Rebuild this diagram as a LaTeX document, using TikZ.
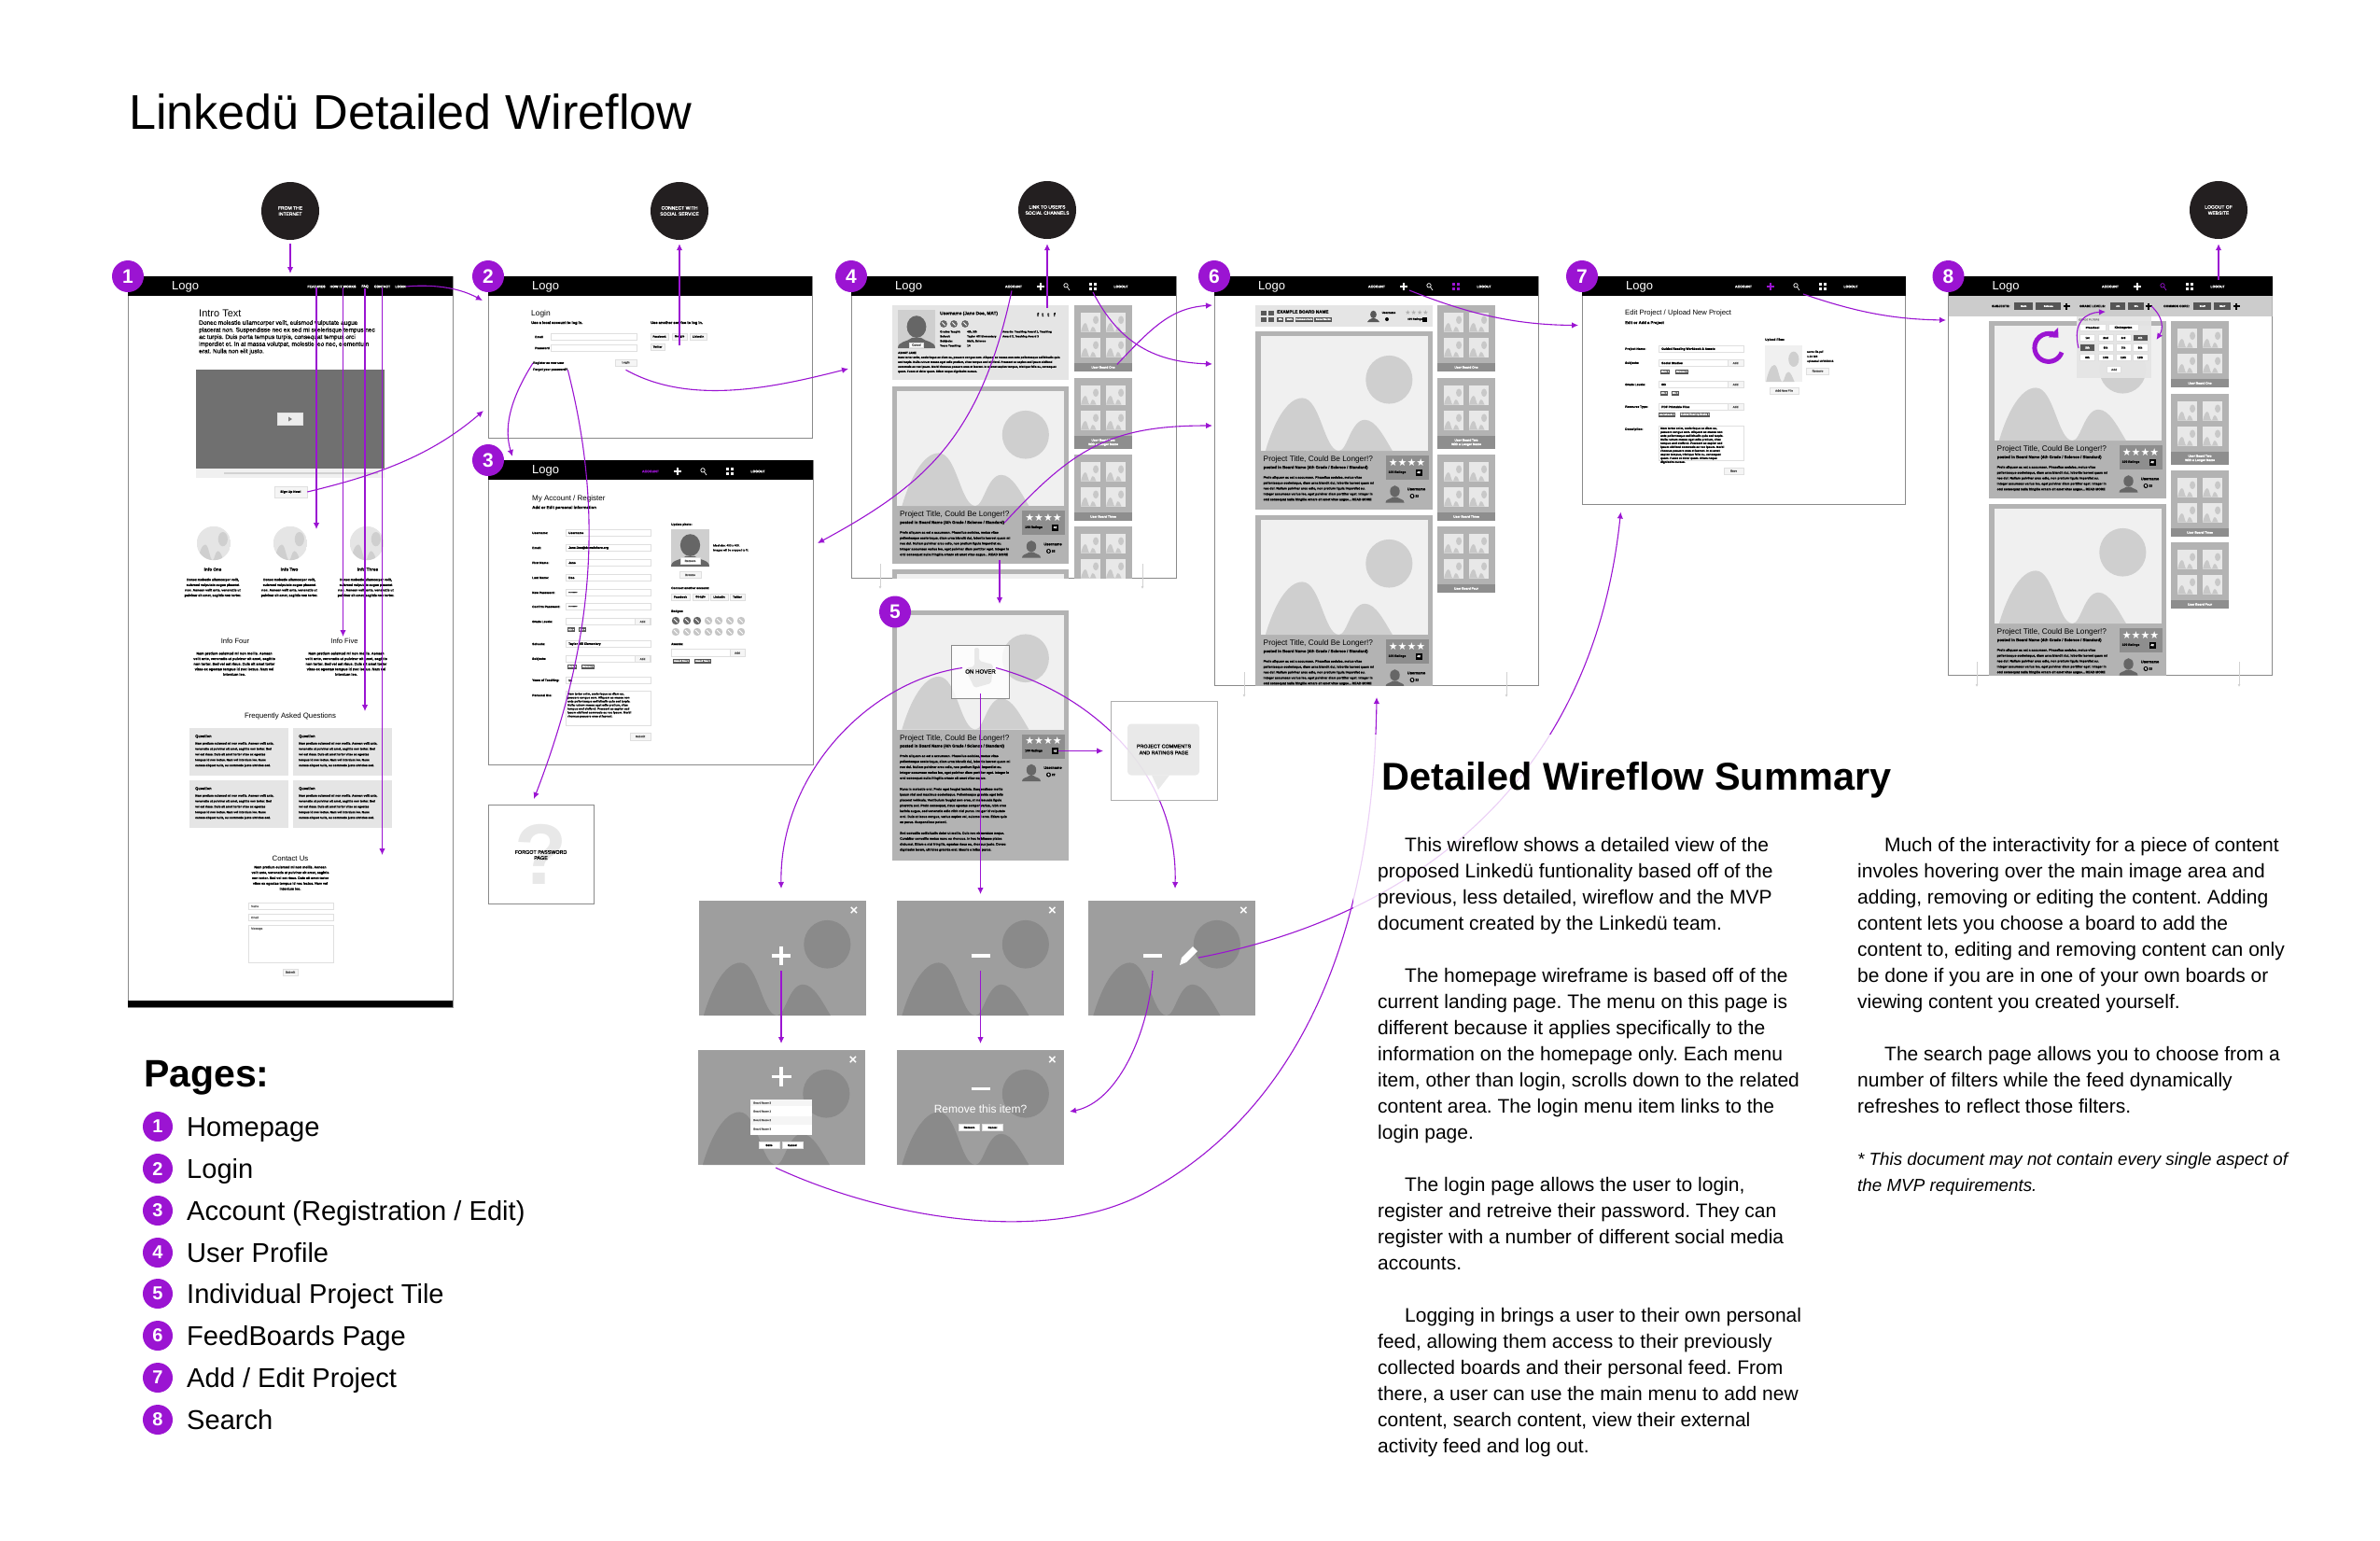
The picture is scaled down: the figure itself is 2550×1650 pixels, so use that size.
\documentclass[tikz,border=0pt]{standalone}
\usepackage{fontspec}
\setmainfont{Liberation Sans}
\newfontfamily\symfont{DejaVu Sans}
\newfontfamily\heavy{Liberation Sans}[UprightFeatures={FakeBold=1.2},BoldFeatures={FakeBold=1.2}]
\usepackage{xcolor}
\usetikzlibrary{arrows.meta, shapes, positioning, calc}

\definecolor{wirepurple}{HTML}{9B14D2}
\definecolor{goaldark}{HTML}{231F20}
\definecolor{cardgrey}{HTML}{B3B3B3}
\definecolor{imgbg}{HTML}{F0F0F0}
\definecolor{imgfg}{HTML}{CFCFCF}
\definecolor{panelbg}{HTML}{9E9E9E}
\definecolor{panelfg}{HTML}{8A8A8A}
\definecolor{paleblock}{HTML}{E5E5E5}
\definecolor{tagdark}{HTML}{555555}
\definecolor{darkbar}{HTML}{8E8E8E}
\definecolor{thumbbg}{HTML}{E8E8E8}
\definecolor{thumbfg}{HTML}{C8C8C8}
\definecolor{framegrey}{HTML}{8A8A8A}

% very small text gets the heavier face
\newcommand{\fsz}[2]{\fontsize{#1}{#2}\ifdim#1pt<7pt\heavy\fi\selectfont}

% image placeholder: x, y, width, height, background, foreground
\newcommand{\scenery}[6]{%
  \begin{scope}[shift={(#1,#2)},x=#3pt,y=-#4pt]
    \fill[#5] (0,0) rectangle (1,1);
    \fill[#6] (.03,1) .. controls (.08,.75) and (.16,.54) .. (.25,.54) .. controls (.36,.54) and (.38,1) .. (.47,1)
      .. controls (.52,1) and (.54,.73) .. (.625,.73) .. controls (.69,.73) and (.74,.88) .. (.79,1) -- cycle;
    \fill[#6] (.77,.38) ellipse [x radius=.14,y radius=.21];
  \end{scope}}

% person silhouette: x, y, width, height, colour
\newcommand{\silhouette}[5]{%
  \begin{scope}[shift={(#1,#2)},x=#3pt,y=-#4pt]
    \fill[#5] (.5,.38) ellipse [x radius=.26,y radius=.32];
    \fill[#5] (0,1) .. controls (0,.8) and (.25,.82) .. (.38,.7) -- (.62,.7) .. controls (.75,.82) and (1,.8) .. (1,1) -- cycle;
  \end{scope}}

% page frame, black header, logo and number badge
\newcommand{\wirepage}[6]{%
  \draw[framegrey, line width=.9pt, fill=white] (#2,#3) rectangle (#4,#5);
  \fill[black] (#2,#3) rectangle (#4,#3+21);
  \node[logotext] (#1logo) at (#2+47,#3+11) {Logo};
  \node[badge] (#1badge) at (#2,#3) {#6};}

% signed-in menu: name, x of ACCOUNT, y, four colours
\newcommand{\usermenu}[7]{%
  \node[navtext, text=#4] (#1account) at (#2,#3) {ACCOUNT};
  \coordinate (#1add) at (#2+29,#3);
  \coordinate (#1find) at (#2+57,#3);
  \coordinate (#1grid) at (#2+85,#3);
  \draw[#5, line width=1.4pt] (#1add) +(-4,0) -- +(4,0) +(0,-4) -- +(0,4);
  \draw[#6, line width=.7pt] (#1find) +(-1,-1.2) circle (2.2pt) +(.5,.5) -- +(3,4);
  \foreach \gx/\gy in {-4.4/-4.4,.9/-4.4,-4.4/.9,.9/.9}
    \fill[#7] ($(#1grid)+(\gx,\gy)$) rectangle +(3.5,3.5);
  \node[navtext] (#1logout) at (#2+115,#3) {LOGOUT};}

% sidebar tile: name, x, y, height, bar height, label
\newcommand{\boardtile}[6]{%
  \begin{scope}[shift={(#2,#3)}]
    \fill[cardgrey] (0,0) rectangle (62,#4);
    \fill[darkbar] (0,#4-#5) rectangle (62,#4);
    \foreach \tx in {6.5,33.5} \foreach \ty in {8,35} \scenery{\tx}{\ty}{21.5}{20.5}{thumbbg}{thumbfg};
    \node[barlabel] (#1) at (31,#4-#5/2) {#6};
  \end{scope}}

% column of the four sidebar tiles
\newcommand{\boardcolumn}[3]{%
  \boardtile{#1one}{#2}{#3}{71}{9}{User Board One}
  \boardtile{#1two}{#2}{#3+78}{76}{14}{User Board Two\\With a Longer Name}
  \boardtile{#1three}{#2}{#3+160}{71}{9}{User Board Three}
  \boardtile{#1four}{#2}{#3+237}{71}{9}{User Board Four}}

\newcommand{\cardblurb}{Proin aliquam ac est a accumsan. Phasellus sodales, metus vitae\\
  pellentesque scelerisque, diam urna blandit dui, lobortis laoreet quam mi\\
  nec dui. Nullam pulvinar arcu odio, non pretium ligula imperdiet eu.\\
  Integer accumsan varius leo, eget pulvinar diam porttitor eget. Integer in\\
  orci consequat nulla fringilla ornare sit amet vitae augue... READ MORE}

% project card: name, x, y, height, body text
\newcommand{\projectcard}[5]{%
  \begin{scope}[shift={(#2,#3)}]
    \fill[cardgrey] (0,0) rectangle (189.5,#4);
    \scenery{5.5}{5}{179}{123}{imgbg}{imgfg}
    \node[cardtitle] (#1title) at (8.5,137.5) {Project Title, Could Be Longer!?};
    \node[cardposted] (#1posted) at (8.5,146) {posted in Board Name (4th Grade / Science / Standard)};
    \node[cardbody] (#1body) at (8.5,155) {#5};
    \fill[darkbar] (139.5,133) rectangle (185.5,159);
    \node[cardstars] (#1stars) at (162.5,140.5) {★★★★};
    \node[tinytext] (#1ratings) at (152,151) {100 Ratings};
    \node[commenticon] (#1comment) at (175,151) {42};
    \silhouette{139.5}{164}{20}{19.5}{tagdark!90}
    \node[cardname] (#1user) at (172.5,169) {Username};
    \node[repdot] (#1rep) at (168,176.5) {0};
    \node[tinytext, right=.5pt of #1rep] (#1score) {22};
  \end{scope}}

% dark overlay with a close mark
\newcommand{\hoverpanel}[3]{%
  \scenery{#2}{#3}{179}{123}{panelbg}{panelfg}
  \node[closemark] (#1close) at (#2+166.5,#3+11.5) {×};}

\begin{document}
\frenchspacing
\begin{tikzpicture}[
    x=1pt, y=-1pt,
    flow/.style={wirepurple, line width=1.1pt, -{Latex[length=7pt,width=6.5pt]}},
    scrollhint/.style={gray!35, line width=.7pt, -{Latex[length=3pt,width=3pt]}},
    goal/.style={circle, fill=goaldark, text=white, minimum size=62pt, inner sep=0pt, align=center, font={\fsz{5}{6.4}}},
    badge/.style={circle, fill=wirepurple, text=white, minimum size=34pt, inner sep=0pt, font={\fsz{21}{24}\bfseries}},
    logotext/.style={anchor=west, text=white, inner sep=0pt, font={\fsz{13}{15}}},
    navtext/.style={text=white, inner sep=0pt, font={\fsz{3.6}{4}\bfseries}},
    heading/.style={anchor=west, inner sep=0pt, font={\fsz{8}{10}}},
    subhead/.style={anchor=west, inner sep=0pt, font={\fsz{4.4}{5}\bfseries}},
    tinytext/.style={inner sep=0pt, font={\fsz{3.3}{4}\bfseries}},
    leftnote/.style={tinytext, anchor=west},
    blurb/.style={inner sep=0pt, align=center, font={\fsz{3.5}{5.6}\bfseries}},
    field/.style={draw=gray!25, fill=white, line width=.7pt, minimum height=7.5pt, inner sep=0pt, anchor=west},
    btn/.style={draw=gray!25, fill=gray!8, line width=.6pt, minimum height=7pt, inner sep=0pt, text=black!65, font={\fsz{3}{4}\bfseries}},
    tagchip/.style={fill=tagdark, text=white, minimum height=5pt, inner sep=.7pt, font={\fsz{2.6}{3}\bfseries}},
    barlabel/.style={text=white, inner sep=0pt, align=center, font={\fsz{3.3}{4.4}\bfseries}},
    cardtitle/.style={anchor=west, inner sep=0pt, font={\fsz{8.3}{10}}},
    cardposted/.style={anchor=west, inner sep=0pt, font={\fsz{4.3}{5}\bfseries}},
    cardbody/.style={anchor=north west, inner sep=0pt, align=left, font={\fsz{3.4}{5.9}\bfseries}},
    cardstars/.style={text=white, inner sep=0pt, font={\symfont\fsz{11}{12}}},
    cardname/.style={inner sep=0pt, font={\fsz{4}{5}\bfseries}},
    commenticon/.style={fill=black, text=white, minimum size=7pt, inner sep=0pt, font={\fsz{3}{4}\bfseries}},
    repdot/.style={circle, fill=black, text=white, minimum size=5pt, inner sep=0pt, font={\fsz{3.4}{4}\bfseries}},
    closemark/.style={text=white, inner sep=0pt, font={\fsz{15}{16}\bfseries}},
    sheet/.style={draw=framegrey, fill=white, line width=.9pt},
    pagelabel/.style={anchor=base west, inner sep=0pt, font={\fsz{29.1}{32}}},
    pagedot/.style={badge, minimum size=32pt, font={\fsz{20}{22}\bfseries}},
    summary/.style={anchor=north west, inner sep=0pt, align=left, font={\fsz{21}{28}}}
  ]
  \useasboundingbox (0,0) rectangle (2550,1650);

  % Title
  \node[anchor=west, inner sep=0pt, font={\fsz{52.2}{60}}] (maintitle) at (138,120) {Linkedü Detailed Wireflow};

  % Outside goals
  \node[goal] (internet) at (311,226) {FROM THE\\INTERNET};
  \node[goal] (connect) at (728,226) {CONNECT WITH\\SOCIAL SERVICE};
  \node[goal] (channels) at (1122,225) {LINK TO USER'S\\SOCIAL CHANNELS};
  \node[goal] (leave) at (2377,225) {LOGOUT OF\\WEBSITE};

  % Page 1, homepage
  \wirepage{home}{137}{296}{485}{1079}{1}
  \fill[black] (137,1072) rectangle (485,1079);
  \node[navtext] (navfeatures) at (339,307) {FEATURES};
  \node[navtext] (navhow) at (367.5,307) {HOW IT WORKS};
  \node[navtext] (navfaq) at (391,307) {FAQ};
  \node[navtext] (navcontact) at (409.5,307) {CONTACT};
  \node[navtext] (navlogin) at (429,307) {LOGIN};
  \node[heading, font={\fsz{11}{13}}] (introhead) at (213,336) {Intro Text};
  \node[anchor=north west, inner sep=0pt, align=left, font={\fsz{6.5}{7.6}}] (introtext) at (213,343) {Donec molestie ullamcorper velit, euismod vulputate augue\\
    placerat non. Suspendisse nec ex sed mi scelerisque tempus nec\\
    ac turpis. Duis porta tempus turpis, consequat tempus orci\\
    imperdiet et. In at massa volutpat, molestie leo nec, elementum\\
    erat. Nulla non elit justo.};
  \fill[black!56] (210,396) rectangle (412,502);
  \fill[gray!12] (210,502) rectangle (412,512);
  \draw[gray!35, line width=2pt] (240,507) -- (405,507);
  \node[btn, fill=gray!15, minimum width=27pt, minimum height=13pt] (playbutton) at (311,449) {\tikz\fill[gray] (0,0) -- (0,5pt) -- (4pt,2.5pt) -- cycle;};
  \node[btn, text=black, minimum width=35pt, minimum height=12pt, font={\fsz{3.4}{4}\bfseries}] (signup) at (311.5,527) {Sign Up Now!};
  \foreach \ix/\il/\ilx in {229/Info One/228, 311/Info Two/310, 393/Info Three/394} {
    \begin{scope}
      \clip (\ix,582) circle (18.2pt);
      \scenery{\ix-18.2}{563.8}{36.4}{36.4}{paleblock}{imgfg}
    \end{scope}
    \node[inner sep=0pt, font={\fsz{4.6}{5}\bfseries}] (info\ix) at (\ilx,610) {\il};
    \node[blurb, anchor=north] (infotext\ix) at (\ix-1,619.5) {Donec molestie ullamcorper velit,\\euismod vulputate augue placerat\\non. Aenean velit ante, venenatis ut\\pulvinar sit amet, sagittis non tortor.};
  }
  \foreach \fx/\fl/\ftx in {252/Info Four/251, 369/Info Five/371} {
    \node[inner sep=0pt, font={\fsz{7.6}{9}}] (info\fx) at (\fx,687) {\fl};
    \node[blurb, anchor=north, font={\fsz{3.8}{5.6}\bfseries}] (infotext\fx) at (\ftx,698.5) {Nam pretium euismod mi non mollis. Aenean\\velit ante, venenatis ut pulvinar sit amet, sagittis\\non tortor. Sed vel est risus. Duis sit amet tortor\\vitae ex egestas tempus id nec lectus. Nam vel\\interdum leo.};
  }
  \node[inner sep=0pt, font={\fsz{7.8}{9}}] (faqtitle) at (311,767) {Frequently Asked Questions};
  \foreach \qx/\qy in {203/780, 314/780, 203/836, 314/836} {
    \fill[paleblock] (\qx,\qy) rectangle +(106,51);
    \node[anchor=west, inner sep=0pt, font={\fsz{4}{5}\bfseries}] (q\qx\qy) at (\qx+6,\qy+9) {Question};
    \node[anchor=north west, inner sep=0pt, align=left, font={\fsz{3.2}{5.9}\bfseries}] (a\qx\qy) at (\qx+6,\qy+15) {Nam pretium euismod mi non mollis. Aenean velit ante,\\venenatis ut pulvinar sit amet, sagittis non tortor. Sed\\vel est risus. Duis sit amet tortor vitae ex egestas\\tempus id nec lectus. Nam vel interdum leo. Nunc\\cursus aliquet nulla, eu commodo justo ultricies sed.};
  }
  \node[inner sep=0pt, font={\fsz{7.8}{9}}] (contacthead) at (311,920) {Contact Us};
  \node[blurb, anchor=north, font={\fsz{3.6}{5.8}\bfseries}] (contacttext) at (311,927.5) {Nam pretium euismod mi non mollis. Aenean\\velit ante, venenatis ut pulvinar sit amet, sagittis\\non tortor. Sed vel est risus. Duis sit amet tortor\\vitae ex egestas tempus id nec lectus. Nam vel\\interdum leo.};
  \node[field, minimum width=91pt] (contactname) at (266,971) {};
  \node[field, minimum width=91pt] (contactmail) at (266,983) {};
  \node[field, minimum width=91pt, minimum height=40pt] (contactmsg) at (266,1011) {};
  \node[leftnote, text=black!55, font={\fsz{3}{4}}] (contactnamet) at (269,971) {Name};
  \node[leftnote, text=black!55, font={\fsz{3}{4}}] (contactmailt) at (269,983) {Email};
  \node[leftnote, text=black!55, font={\fsz{3}{4}}] (contactmsgt) at (269,995) {Message};
  \node[btn, minimum width=16pt] (sendbutton) at (311,1041.5) {Submit};

  % Page 2, login
  \wirepage{login}{523}{296}{870}{469}{2}
  \node[heading, font={\fsz{8.4}{10}}] (loginhead) at (569,336) {Login};
  \node[subhead, font={\fsz{4}{5}\bfseries}] (localhint) at (569,346) {Use a local account to log in.};
  \node[subhead, font={\fsz{4}{5}\bfseries}] (otherhint) at (697,346) {Use another service to log in.};
  \node[leftnote] (maillabel) at (573,361) {Email};
  \node[leftnote] (passlabel) at (573,373) {Password};
  \node[field, minimum width=92pt] (mailfield) at (590,361) {};
  \node[field, minimum width=92pt] (passfield) at (590,373) {};
  \foreach \sx/\sy/\sw/\sl in {706.5/360.5/19/Facebook, 728/360.5/16/Google, 748/360.5/18/LinkedIn, 704.5/371.5/15/Twitter}
    \node[btn, text=black, minimum width=\sw pt] (login\sl) at (\sx,\sy) {\sl};
  \node[leftnote] (registerlink) at (571,389) {Register as new user};
  \node[leftnote] (forgotlink) at (571,396) {Forgot your password?};
  \node[btn, minimum width=23pt] (loginbutton) at (670.5,388.5) {Login};

  % Page 3, account
  \wirepage{account}{523}{493}{871}{819}{3}
  \usermenu{acc}{697}{505}{wirepurple}{white}{white}{white}
  \node[heading] (accounthead) at (570,534) {My Account / Register};
  \node[subhead] (accountsub) at (570,544) {Add or Edit personal information};
  \foreach \ry/\rl/\rv in {571/Username:/Username, 587/Email:/Jane.Doe@domainhere.org, 603/First Name:/Jane, 619/Last Name:/Doe, 635/New Password:/••••••••, 650/Confirm Password:/••••••••, 690/Schools:/Taylor Hill Elementary, 729/Years of Teaching:/14} {
    \node[leftnote] (lab\ry) at (570,\ry) {\rl};
    \node[field, minimum width=91pt] (fld\ry) at (606,\ry) {};
    \node[leftnote] (val\ry) at (609,\ry) {\rv};
  }
  \foreach \ry/\rl in {666/Grade Levels:, 706/Subjects:} {
    \node[leftnote] (lab\ry) at (570,\ry) {\rl};
    \node[field, minimum width=91pt] (fld\ry) at (606,\ry) {};
    \node[btn, minimum width=16pt, minimum height=7.5pt] (add\ry) at (688.5,\ry) {Add};
  }
  \node[tagchip] (taga) at (612,674.5) {4th ×};
  \node[tagchip] (tagb) at (624,674.5) {5th ×};
  \node[tagchip] (tagc) at (613,714) {Math ×};
  \node[tagchip] (tagd) at (630,714) {Science ×};
  \node[leftnote] (lab745) at (570,745) {Personal Bio:};
  \node[field, minimum width=91pt, minimum height=37pt, align=left] (biofield) at (606,758.5) {};
  \node[anchor=north west, inner sep=0pt, align=left, font={\fsz{3.1}{4}\bfseries}] (biotext) at (608,742) {Nam tortor enim, scelerisque ac diam eu,\\posuere congue sem. Aliquam ac massa non\\ante pellentesque sollicitudin quis sed turpis.\\Nulla rutrum massa eget odio pretium, vitae\\tempus orci eleifend. Praesent ac sapien sed\\ipsum eleifend commodo ac nec ipsum. Morbi\\rhoncus posuere eros et laoreet.};
  \node[btn, minimum width=22pt, minimum height=8pt] (submitbutton) at (686,789) {Submit};
  \node[leftnote] (photolabel) at (719,562) {Update photo:};
  \fill[imgfg] (719,567) rectangle (760,607);
  \silhouette{719}{570}{41}{37}{tagdark!90}
  \node[btn, fill=white, minimum width=21pt] (photoremove) at (739.5,601) {Remove};
  \node[anchor=north west, inner sep=0pt, align=left, font={\fsz{3}{5}}] (photohint) at (764,583) {Ideal size: 400 x 400.\\Images will be cropped to fit.};
  \node[btn, minimum width=23pt] (photobrowse) at (739.5,616) {Browse};
  \node[leftnote] (connectlabel) at (719,630) {Connect another account:};
  \foreach \sx/\sw/\sl in {729/20/Facebook, 750.5/17/Google, 770.5/19/LinkedIn, 790/16/Twitter}
    \node[btn, text=black, minimum width=\sw pt] (acc\sl) at (\sx,639.5) {\sl};
  \node[leftnote] (badgelabel) at (719,655) {Badges:};
  \foreach \bx [count=\bi] in {724,736,747,759,770,782,794} {
    \ifnum\bi<4 \fill[tagdark!90] (\bx,665) circle (4.2pt); \else \fill[gray!45] (\bx,665) circle (4.2pt); \fi
    \fill[gray!45] (\bx,677) circle (4.2pt);
    \draw[white, line width=.8pt] (\bx-1.8,663.2) -- (\bx+1.8,666.8);
    \draw[white, line width=.8pt] (\bx-1.8,675.2) -- (\bx+1.8,678.8);
  }
  \node[leftnote] (awardlabel) at (719,690) {Awards:};
  \node[field, minimum width=63pt] (awardfield) at (719,699.5) {};
  \node[btn, minimum width=16pt, minimum height=7.5pt] (awardadd) at (790,699.5) {Add};
  \node[tagchip] (awarda) at (730,708) {Award One ×};
  \node[tagchip] (awardb) at (753,708) {Award Two ×};

  % Forgot password
  \draw[sheet] (523,862) rectangle (636,968);
  \node[inner sep=0pt, text=gray!18, font={\fsz{92}{100}\bfseries}] (forgotmark) at (580,915) {?};
  \node[inner sep=0pt, align=center, font={\fsz{5.4}{6.2}}] (forgotpage) at (579.5,916) {FORGOT PASSWORD\\PAGE};

  % Page 4, user profile
  \wirepage{profile}{912}{296}{1260}{619}{4}
  \usermenu{pro}{1086}{307}{white}{white}{white}{white}
  \begin{scope}
    \clip (912,317) rectangle (1260,619);
    \fill[paleblock] (955.5,327) rectangle (1145,407);
    \fill[imgfg] (962,332) rectangle (1002,373);
    \silhouette{962}{336}{40}{37}{tagdark!90}
    \node[btn, fill=white, minimum width=15pt, minimum height=5pt] (cancelbutton) at (982,369.5) {Cancel};
    \node[anchor=west, inner sep=0pt, font={\fsz{4.8}{5.6}\bfseries}] (username) at (1007,336) {Username (Jane Doe, MAT)};
    \foreach \bx in {1011,1022,1034} {
      \fill[tagdark!90] (\bx,347) circle (3.9pt);
      \draw[white, line width=.8pt] (\bx-1.6,345.4) -- (\bx+1.6,348.6);
    }
    \node[anchor=west, inner sep=0pt, font={\fsz{5.5}{6}\bfseries}] (socials) at (1111,337) {f\hspace{3.2pt}t\hspace{4.2pt}t\hspace{4.8pt}f};
    \node[anchor=north west, inner sep=0pt, align=left, font={\fsz{3}{5}\bfseries}] (factlabels) at (1007,354) {Grades Taught:\\School:\\Subjects:\\Years Teaching:};
    \node[anchor=north west, inner sep=0pt, align=left, font={\fsz{3}{5}\bfseries}] (factvalues) at (1036,354) {4th, 5th\\Taylor Hill Elementary\\Math, Science\\14};
    \node[anchor=north west, inner sep=0pt, align=left, font={\fsz{3}{5}\bfseries}] (factawards) at (1074,354) {Awards: Teaching Award 1, Teaching\\Award 2, Teaching Award 3};
    \node[anchor=west, inner sep=0pt, font={\fsz{3}{4}\bfseries}] (aboutlabel) at (962,378) {ABOUT JANE};
    \node[anchor=north west, inner sep=0pt, align=left, font={\fsz{3}{5}\bfseries}] (abouttext) at (962,381.5) {Nam tortor enim, scelerisque ac diam eu, posuere congue sem. Aliquam ac massa non ante pellentesque sollicitudin quis\\sed turpis. Nulla rutrum massa eget odio pretium, vitae tempus orci eleifend. Praesent ac sapien sed ipsum eleifend\\commodo ac nec ipsum. Morbi rhoncus posuere eros et laoreet. In at amet sapien tempus, tristique felis eu, consequat\\quam. Fusce et dolor quam. Etiam neque dignissim cursus.};
    \projectcard{procard}{955.5}{414}{190}{\cardblurb}
    \projectcard{procardb}{955.5}{610}{190}{\cardblurb}
    \boardcolumn{proboard}{1151}{327}
  \end{scope}

  % Page 5, individual tile
  \projectcard{tile}{955.5}{653.5}{268}{Proin aliquam ac est a accumsan. Phasellus sodales, metus vitae\\
    pellentesque scelerisque, diam urna blandit dui, lobortis laoreet quam mi\\
    nec dui. Nullam pulvinar arcu odio, non pretium ligula imperdiet eu.\\
    Integer accumsan varius leo, eget pulvinar diam porttitor eget. Integer in\\
    orci consequat nulla fringilla ornare sit amet vitae augue.\\[5.9pt]
    Nunc in molestie orci. Proin eget feugiat lacinia. Suspendisse mollis\\
    ipsum nisi sed maximus scelerisque. Pellentesque gravida eget felis\\
    placerat vehicula. Vestibulum feugiat sem eros, et malesuada ligula\\
    pharetra sed. Proin consequat, risus egestas semper varius, nibh eros\\
    lacinia augue, sed venenatis odio nibh nisi purus. Integer id vulputate\\
    orci. Duis at lacus congue, varius sapien vel, euismod eros. Etiam quis\\
    ex purus. Suspendisse potenti.\\[5.9pt]
    Sed convallis sollicitudin dolor ut mollis. Duis nec elementum neque.\\
    Curabitur convallis metus nunc eu rhoncus. In hac habitasse platea\\
    dictumst. Etiam a nisi fringilla, egestas risus eu, rhoncus justo. Donec\\
    dignissim lorem, ultricies gravida erat. Mauris a tellus purus.}
  \node[badge] (tilebadge) at (959,655.5) {5};
  \draw[framegrey, line width=.7pt, fill=white, fill opacity=.8] (1019.5,691) rectangle (1081,748.5);
  \fill[gray!18, rounded corners=2pt] (1044,694) -- (1049,694) -- (1049,708) -- (1064,712) -- (1062,732) -- (1044,737) -- (1034,716) -- (1044,714) -- cycle;
  \node[inner sep=0pt, font={\fsz{6.1}{7}}] (onhover) at (1050.5,719.5) {ON HOVER};

  % Page 6, feed boards
  \wirepage{feed}{1301}{296}{1648}{734}{6}
  \usermenu{fee}{1475}{307}{white}{white}{white}{wirepurple}
  \begin{scope}
    \clip (1301,317) rectangle (1648,734);
    \fill[paleblock] (1345,327) rectangle (1535,350);
    \foreach \gx/\gy in {1351/332.5, 1358.5/332.5, 1351/339.5, 1358.5/339.5} \fill[gray!70!black] (\gx,\gy) rectangle +(6,5.5);
    \node[anchor=west, inner sep=0pt, font={\fsz{4.6}{5}\bfseries}] (boardname) at (1368,334) {EXAMPLE BOARD NAME};
    \foreach \tx/\tw/\tl in {1368/7/4th, 1377/9/Math, 1387.5/19/Common Core, 1408/19/Some Words}
      \node[tagchip, anchor=west, minimum width=\tw pt] (board\tx) at (\tx,342) {\tl};
    \silhouette{1465}{332}{13}{13}{gray!70!black}
    \node[anchor=west, inner sep=0pt, font={\fsz{3}{4}\bfseries}] (boarduser) at (1480.5,335) {Username};
    \node[inner sep=0pt, text=gray!60, font={\symfont\fsz{7}{8}}] (boardstars) at (1518,335) {★★★★};
    \node[anchor=west, inner sep=0pt, font={\fsz{2.8}{3}\bfseries}] (boardrate) at (1508,342) {100 Ratings};
    \node[commenticon, minimum size=5pt] (boardnote) at (1526,342) {};
    \node[repdot, minimum size=4pt] (boardrep) at (1486,342) {};
    \projectcard{feedcard}{1345}{355}{190.5}{\cardblurb}
    \projectcard{feedcardb}{1345}{552}{190}{\cardblurb}
    \boardcolumn{feedboard}{1540}{327}
  \end{scope}

  % Page 7, add / edit project
  \wirepage{project}{1695}{296}{2041.5}{540}{7}
  \usermenu{pjt}{1868}{307}{white}{wirepurple}{white}{white}
  \node[heading, font={\fsz{7.7}{9}}] (projecthead) at (1741,336) {Edit Project / Upload New Project};
  \node[subhead, font={\fsz{4.2}{5}\bfseries}] (projectsub) at (1741,346) {Edit or Add a Project};
  \foreach \ry/\rl/\rv in {374/Project Name:/Guided Reading Workbook \& Assets, 389/Subjects:/Social Studies, 412/Grade Levels:/6th, 436/Resource Type:/PDF Printable Files} {
    \node[leftnote] (pl\ry) at (1741,\ry) {\rl};
    \node[field, minimum width=91pt] (pf\ry) at (1777,\ry) {};
    \node[leftnote] (pv\ry) at (1780,\ry) {\rv};
  }
  \foreach \ry in {389,412,436} \node[btn, minimum width=17pt, minimum height=7.5pt] (padd\ry) at (1859.5,\ry) {Add};
  \node[tagchip] (ptaga) at (1784,398) {Math ×};
  \node[tagchip] (ptagb) at (1802,398) {Science ×};
  \node[tagchip] (ptagc) at (1783,421) {4th ×};
  \node[tagchip] (ptagd) at (1795,421) {5th ×};
  \node[tagchip] (ptage) at (1786,444) {worksheets ×};
  \node[tagchip] (ptagf) at (1816,444) {Guided Reading Books ×};
  \node[leftnote] (pl460) at (1741,460) {Description:};
  \node[field, minimum width=91pt, minimum height=37pt] (pdesc) at (1777,474.5) {};
  \node[anchor=north west, inner sep=0pt, align=left, font={\fsz{3.1}{4}\bfseries}] (pdesctext) at (1779,457.5) {Nam tortor enim, scelerisque ac diam eu,\\posuere congue sem. Aliquam ac massa non\\ante pellentesque sollicitudin quis sed turpis.\\Nulla rutrum massa eget odio pretium, vitae\\tempus orci eleifend. Praesent ac sapien sed\\ipsum eleifend commodo ac nec ipsum. Morbi\\rhoncus posuere eros et laoreet. In at amet\\sapien tempus, tristique felis eu, consequat\\quam. Fusce et dolor quam. Etiam neque\\dignissim cursus.};
  \node[btn, minimum width=21pt] (savebutton) at (1857.5,504.5) {Save};
  \node[leftnote] (uploadlabel) at (1891,364) {Upload Files:};
  \scenery{1891}{370}{40}{39}{imgbg}{imgfg}
  \node[anchor=north west, inner sep=0pt, align=left, font={\fsz{3}{5}}] (uploadinfo) at (1936,375.5) {some-file.pdf\\1.24 MB\\uploaded 10/15/2015};
  \node[btn, minimum width=24pt] (uploadremove) at (1947.5,397.5) {Remove};
  \node[btn, minimum width=31pt] (uploadadd) at (1911.5,418.5) {Add New File};

  % Page 8, search
  \wirepage{search}{2087.5}{296}{2434.5}{723}{8}
  \usermenu{sea}{2261}{307}{white}{white}{wirepurple}{white}
  \begin{scope}
    \clip (2087.5,317) rectangle (2434.5,723);
    \fill[gray!40] (2087.5,317) rectangle (2434.5,338.5);
    \projectcard{searchcard}{2131}{344}{190}{\cardblurb}
    \projectcard{searchcardb}{2131}{540}{190}{\cardblurb}
    \boardcolumn{searchboard}{2326}{344}
  \end{scope}
  \foreach \fx/\fl in {2134/SUBJECTS:, 2228/GRADE LEVELS:, 2318/COMMON CORE:}
    \node[anchor=west, inner sep=0pt, font={\fsz{3.4}{4}\bfseries}] (filter\fx) at (\fx,328) {\fl};
  \foreach \tx/\tw/\tl in {2158/20/Math, 2181/27/Science, 2261/16/4th, 2280/17/5th, 2350/19/Stuff, 2372/18/Stuff}
    \node[tagchip, anchor=west, minimum width=\tw pt, minimum height=8pt] (chip\tx) at (\tx,328) {\tl};
  \foreach \px in {2214,2302,2396}
    \draw[black, line width=1.4pt] (\px-3.5,328) -- (\px+3.5,328) (\px,324.5) -- (\px,331.5);
  \fill[paleblock, opacity=.95] (2225,338.5) rectangle (2305,405);
  \node[anchor=west, inner sep=0pt, text=black!50, font={\fsz{2.8}{3}}] (filterhead) at (2227,342.5) {GRADE FILTERS};
  \node[btn, fill=white, text=black, minimum width=28pt] (fpre) at (2242,351) {Preschool};
  \node[btn, fill=white, text=black, minimum width=32pt] (fkin) at (2275,351) {Kindergarten};
  \foreach \gr/\gx/\gy/\gc/\gt in {1st/2236.5/362/white/black, 2nd/2256/362/white/black, 3rd/2275/362/white/black, 4th/2293/362/tagdark/white, 5th/2236.5/372.5/tagdark/white, 6th/2256/372.5/white/black, 7th/2275/372.5/white/black, 8th/2293/372.5/white/black, 9th/2236.5/383/white/black, 10th/2256/383/white/black, 11th/2275/383/white/black, 12th/2293/383/white/black}
    \node[btn, fill=\gc, text=\gt, minimum width=16pt, minimum height=7.5pt] (grade\gr) at (\gx,\gy) {\gr};
  \node[btn, fill=white, minimum width=15pt, minimum height=6.5pt] (gradeadd) at (2265,396) {Add};
  \draw[wirepurple, line width=5pt, -{Triangle[length=8pt,width=14pt]}] (2209,377.5) arc[start angle=-20, end angle=-315, radius=15pt];

  % Hover overlays
  \hoverpanel{addpanel}{748.5}{965}
  \hoverpanel{minuspanel}{961}{965}
  \hoverpanel{editpanel}{1166}{965}
  \hoverpanel{pickpanel}{747.5}{1125}
  \hoverpanel{removepanel}{961}{1125}
  \coordinate (addicon) at (837,1024);
  \coordinate (minusicon) at (1050.5,1024);
  \coordinate (editicon) at (1235,1024);
  \coordinate (pencilicon) at (1284,1026);
  \draw[white, line width=3.4pt] (827,1024) -- (847,1024) (837,1014) -- (837,1034);
  \draw[white, line width=3.4pt] (1040.5,1024) -- (1060.5,1024);
  \draw[white, line width=3.4pt] (1225,1024) -- (1245,1024);
  \fill[white] (1264,1034) -- (1266,1026) -- (1278,1014) -- (1283,1019) -- (1271,1031) -- cycle;
  \draw[white, line width=3.4pt] (826.5,1153.5) -- (847.5,1153.5) (837,1143) -- (837,1164);
  \fill[white] (803.5,1178) rectangle (869.5,1215.5);
  \fill[gray!8] (803.5,1178) rectangle (869.5,1185);
  \fill[gray!8] (803.5,1196) rectangle (869.5,1205);
  \foreach \ly/\lt in {1181.5/Board Name 2, 1190.5/Board Name 1, 1200/Board Name 2, 1209.5/Board Name 3}
    \node[leftnote, text=black!60, font={\fsz{2.8}{3}\bfseries}] (pick\ly) at (807,\ly) {\lt};
  \node[btn, fill=white, text=black, minimum width=22pt] (picksave) at (824,1227) {Save};
  \node[btn, fill=white, text=black, minimum width=22pt] (pickcancel) at (849,1227) {Cancel};
  \draw[white, line width=3.4pt] (1040.5,1166.5) -- (1060.5,1166.5);
  \node[inner sep=0pt, text=white, font={\fsz{12}{14}}] (removeask) at (1050.5,1188) {Remove this item?};
  \node[btn, fill=white, text=black, minimum width=21.5pt] (removeyes) at (1038.5,1208) {Remove};
  \node[btn, fill=white, text=black, minimum width=21.5pt] (removeno) at (1063.5,1208) {Cancel};

  % Scroll hints
  \foreach \hx/\hy in {943/604, 1224/604, 1333/720, 1614/720, 2118/709, 2399/709} {
    \coordinate (hint\hx a) at (\hx,\hy);
    \coordinate (hint\hx b) at (\hx,\hy+27);
    \draw[scrollhint] (hint\hx a) -- (hint\hx b);
  }

  % Ends of the connectors
  \coordinate (homein) at (311,293);
  \coordinate (socialout) at (728,370);
  \coordinate (loginin) at (517,322);
  \coordinate (loginentry) at (518,440);
  \coordinate (featuresdrop) at (339,567);
  \coordinate (howdrop) at (367.5,682);
  \coordinate (faqdrop) at (391,762);
  \coordinate (contactdrop) at (409.5,916);
  \coordinate (accountin) at (549,489);
  \coordinate (forgotin) at (572,856);
  \coordinate (profilein) at (909,395);
  \coordinate (accountback) at (876,582);
  \coordinate (twitterout) at (1122,330);
  \coordinate (tileout) at (1071,600);
  \coordinate (tilein) at (1071,647);
  \coordinate (feedtop) at (1299,327);
  \coordinate (feedmid) at (1299,390);
  \coordinate (feedlow) at (1299,456);
  \coordinate (feedbottom) at (1475,747);
  \coordinate (projectin) at (1691,348.5);
  \coordinate (projectbottom) at (1736.5,548.5);
  \coordinate (searchin) at (2085,343);
  \coordinate (logoutout) at (2377,300);
  \coordinate (hoverleft) at (1031,715.5);
  \coordinate (hoverright) at (1067,715.5);
  \coordinate (hoverdown) at (1050.5,743);
  \coordinate (addtop) at (837,952);
  \coordinate (minustop) at (1050.5,958);
  \coordinate (edittop) at (1259,952);
  \coordinate (picktop) at (837,1118);
  \coordinate (removetop) at (1050.5,1118);
  \coordinate (removeside) at (1146,1191);
  \coordinate (pickout) at (831,1251);
  \coordinate (curvebend) at (1225,1279);
  \coordinate (commentsin) at (1182,804.5);
  \coordinate (gradefrom) at (2227,373);
  \coordinate (gradeto) at (2256,334);
  \coordinate (gradeback) at (2305,328);
  \coordinate (gradeend) at (2310.5,364);

  % Connectors
  \draw[flow] (internet) ++(0,35) -- (homein);
  \draw[flow] (socialout) -- ([yshift=-4pt]connect.south);
  \draw[flow] (twitterout) -- ([yshift=-5pt]channels.south);
  \draw[flow] (logoutout) -- ([yshift=-5pt]leave.south);
  \draw[flow] (navlogin.east) .. controls (470,304) and (495,310) .. (loginin);
  \draw[flow] (signup.east) .. controls (400,510) and (460,490) .. (loginentry);
  \draw[flow] (navfeatures.south) -- (featuresdrop);
  \draw[flow] (navhow.south) -- (howdrop);
  \draw[flow] (navfaq.south) -- (faqdrop);
  \draw[flow] (navcontact.south) -- (contactdrop);
  \draw[flow] (registerlink.west) .. controls (545,430) and (540,460) .. (accountin);
  \draw[flow] (forgotlink.east) .. controls (645,540) and (640,680) .. (forgotin);
  \draw[flow] (loginbutton.south) ++(0,4) .. controls (740,435) and (830,415) .. (profilein);
  \draw[flow] (proaccount.south) ++(-2,3) .. controls (1050,470) and (990,520) .. (accountback);
  \draw[flow] (proboardone.east) ++(2,-3) .. controls (1235,350) and (1255,330) .. (feedtop);
  \draw[flow] (progrid) ++(0,6) .. controls (1200,370) and (1240,388) .. (feedmid);
  \draw[flow] (procardposted.east) .. controls (1150,480) and (1190,456) .. (feedlow);
  \draw[flow] (tileout) -- (tilein);
  \draw[flow] (feeadd) ++(6,4) .. controls (1570,335) and (1620,348) .. (projectin);
  \draw[flow] (pjtfind) ++(7,8) .. controls (1990,335) and (2030,342) .. (searchin);
  \draw[flow] (gradefrom) .. controls (2220,345) and (2235,335) .. (gradeto);
  \draw[flow] (gradeback) .. controls (2318,340) and (2318,352) .. (gradeend);
  \draw[flow] (hoverleft) .. controls (930,730) and (835,830) .. (addtop);
  \draw[flow] (hoverright) .. controls (1160,740) and (1262,820) .. (edittop);
  \draw[flow] (hoverdown) -- (minustop);
  \draw[flow] (tilecomment.east) -- (commentsin);
  \draw[flow] ([yshift=-16pt]addicon) -- (picktop);
  \draw[flow] ([yshift=-16pt]minusicon) -- (removetop);
  \draw[flow] ([yshift=-16pt]editicon) .. controls (1232,1100) and (1200,1180) .. (removeside);
  \draw[flow] (pencilicon) .. controls (1500,985) and (1705,850) .. (projectbottom);
  \draw[flow] (pickout) .. controls (950,1306) and (1120,1334) .. (curvebend) .. controls (1330,1224) and (1470,1090) .. (feedbottom);

  % Comments page, above the curve
  \draw[framegrey!70, line width=.7pt, fill=white, fill opacity=.8] (1190,751.5) rectangle (1304,857.5);
  \fill[paleblock, opacity=.85, rounded corners=4pt] (1208,775.5) rectangle (1285,830.5);
  \fill[paleblock, opacity=.85] (1234,830.5) -- (1241,846) -- (1253,830.5) -- cycle;
  \node[inner sep=0pt, align=center, font={\fsz{5.4}{7}}] (commentspage) at (1247,803) {PROJECT COMMENTS\\AND RATINGS PAGE};

  % Text area washes the curves out
  \fill[white, opacity=.8] (1450,787) rectangle (1680,1000);

  % Summary
  \node[anchor=west, inner sep=0pt, font={\fsz{41.5}{46}\bfseries}] (summaryhead) at (1480,836) {Detailed Wireflow Summary};
  \node[summary] (summaryleft) at (1476,897) {\hspace*{29pt}This wireflow shows a detailed view of the\\
    proposed Linkedü funtionality based off of the\\
    previous, less detailed, wireflow and the MVP\\
    document created by the Linkedü team.\\[28pt]
    \hspace*{29pt}The homepage wireframe is based off of the\\
    current landing page. The menu on this page is\\
    different because it applies specifically to the\\
    information on the homepage only. Each menu\\
    item, other than login, scrolls down to the related\\
    content area. The login menu item links to the\\
    login page.\\[28pt]
    \hspace*{29pt}The login page allows the user to login,\\
    register and retreive their password. They can\\
    register with a number of different social media\\
    accounts.\\[28pt]
    \hspace*{29pt}Logging in brings a user to their own personal\\
    feed, allowing them access to their previously\\
    collected boards and their personal feed. From\\
    there, a user can use the main menu to add new\\
    content, search content, view their external\\
    activity feed and log out.};
  \node[summary] (summaryright) at (1990,897) {\hspace*{29pt}Much of the interactivity for a piece of content\\
    involes hovering over the main image area and\\
    adding, removing or editing the content. Adding\\
    content lets you choose a board to add the\\
    content to, editing and removing content can only\\
    be done if you are in one of your own boards or\\
    viewing content you created yourself.\\[28pt]
    \hspace*{29pt}The search page allows you to choose from a\\
    number of filters while the feed dynamically\\
    refreshes to reflect those filters.};
  \node[summary, font={\fsz{18.8}{28}\itshape}] (summarynote) at (1990,1235) {* This document may not contain every single aspect of\\the MVP requirements.};

  % Legend
  \node[anchor=west, inner sep=0pt, font={\fsz{41}{46}\bfseries}] (pageshead) at (154,1155) {Pages:};
  \foreach \n/\ly/\lt in {1/1207/Homepage, 2/1252/Login, 3/1297/{Account (Registration / Edit)}, 4/1342/User Profile, 5/1386/Individual Project Tile, 6/1431/FeedBoards Page, 7/1476/{Add / Edit Project}, 8/1521/Search} {
    \node[pagedot] (legend\n) at (169,\ly) {\n};
    \node[pagelabel] (legendtext\n) at (200,\ly+10) {\lt};
  }
\end{tikzpicture}
\end{document}
